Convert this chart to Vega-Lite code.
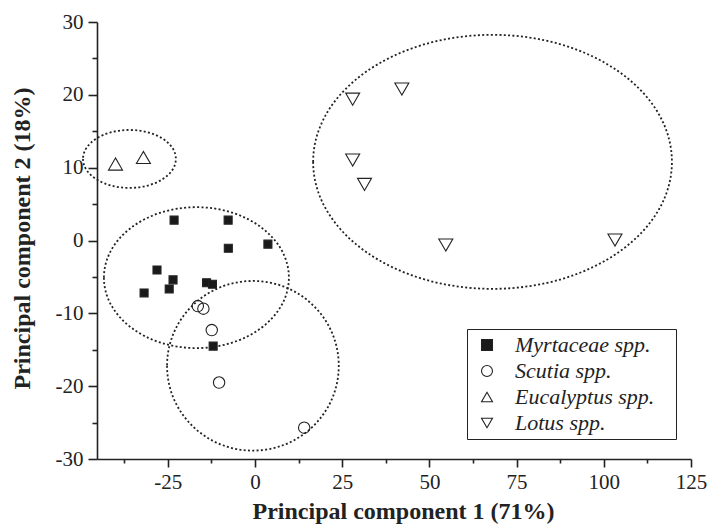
{
  "$schema": "https://vega.github.io/schema/vega-lite/v6.json",
  "width": 594,
  "height": 437,
  "autosize": {"type": "none"},
  "padding": {"left": 97, "top": 22, "right": 19, "bottom": 71},
  "background": "white",
  "config": {
    "view": {"stroke": null},
    "font": "Liberation Serif, Times New Roman, serif"
  },
  "datasets": {
    "points": [
      {"species": "Myrtaceae spp.", "pc1": -23.2, "pc2": 2.8},
      {"species": "Myrtaceae spp.", "pc1": -7.7, "pc2": 2.8},
      {"species": "Myrtaceae spp.", "pc1": -7.65, "pc2": -1.07},
      {"species": "Myrtaceae spp.", "pc1": 3.7, "pc2": -0.5},
      {"species": "Myrtaceae spp.", "pc1": -28.1, "pc2": -4.05},
      {"species": "Myrtaceae spp.", "pc1": -23.5, "pc2": -5.4},
      {"species": "Myrtaceae spp.", "pc1": -24.6, "pc2": -6.65},
      {"species": "Myrtaceae spp.", "pc1": -31.8, "pc2": -7.2},
      {"species": "Myrtaceae spp.", "pc1": -13.9, "pc2": -5.8},
      {"species": "Myrtaceae spp.", "pc1": -12.2, "pc2": -6.0},
      {"species": "Myrtaceae spp.", "pc1": -12.0, "pc2": -14.5},
      {"species": "Scutia spp.", "pc1": -16.4, "pc2": -9.0},
      {"species": "Scutia spp.", "pc1": -14.8, "pc2": -9.36},
      {"species": "Scutia spp.", "pc1": -12.4, "pc2": -12.3},
      {"species": "Scutia spp.", "pc1": -10.3, "pc2": -19.5},
      {"species": "Scutia spp.", "pc1": 14.1, "pc2": -25.7},
      {"species": "Eucalyptus spp.", "pc1": -40.0, "pc2": 10.5},
      {"species": "Eucalyptus spp.", "pc1": -32.0, "pc2": 11.4},
      {"species": "Lotus spp.", "pc1": 28.0, "pc2": 19.4},
      {"species": "Lotus spp.", "pc1": 42.1, "pc2": 20.8},
      {"species": "Lotus spp.", "pc1": 28.0, "pc2": 11.05},
      {"species": "Lotus spp.", "pc1": 31.4, "pc2": 7.7},
      {"species": "Lotus spp.", "pc1": 54.7, "pc2": -0.62},
      {"species": "Lotus spp.", "pc1": 103.2, "pc2": 0.07}
    ],
    "ellipses": [
      {"group": "Eucalyptus", "pc1": -36.0, "pc2": 11.2, "rx": 13.3, "ry": 4.0},
      {"group": "Myrtaceae", "pc1": -16.8, "pc2": -5.1, "rx": 26.5, "ry": 9.7},
      {"group": "Scutia", "pc1": -0.6, "pc2": -17.2, "rx": 24.6, "ry": 11.7},
      {"group": "Lotus", "pc1": 68.1, "pc2": 10.8, "rx": 51.4, "ry": 17.4}
    ]
  },
  "encoding": {
    "x": {"field": "pc1", "type": "quantitative", "scale": {"domain": [-45.3, 125], "nice": false, "zero": false},
      "axis": {
        "values": [-37.5, -25, -12.5, 0, 12.5, 25, 37.5, 50, 62.5, 75, 87.5, 100, 112.5, 125],
        "labelExpr": "datum.value % 25 == 0 ? '' + datum.value : ''",
        "tickSize": {"condition": {"test": "datum.value % 25 == 0", "value": 8}, "value": 4},
        "grid": false,
        "domainColor": "#222", "domainWidth": 1.6,
        "tickColor": "#222", "tickWidth": 1.6,
        "labelFont": "Liberation Serif, Times New Roman, serif", "labelFontSize": 21, "labelColor": "#222", "labelPadding": 4,
        "labelFlush": false, "labelOverlap": false,
        "title": "Principal component 1 (71%)",
        "titleFont": "Liberation Serif, Times New Roman, serif", "titleFontSize": 24, "titleFontWeight": "bold", "titleColor": "#222",
        "titleX": 306, "titleY": 59, "titleBaseline": "alphabetic", "titleAnchor": null, "titleAlign": "center"
      }
    },
    "y": {"field": "pc2", "type": "quantitative", "scale": {"domain": [-30, 30], "nice": false, "zero": false},
      "axis": {
        "values": [-30, -25, -20, -15, -10, -5, 0, 5, 10, 15, 20, 25, 30],
        "labelExpr": "datum.value % 10 == 0 ? '' + datum.value : ''",
        "tickSize": {"condition": {"test": "datum.value % 10 == 0", "value": 9}, "value": 5},
        "grid": false,
        "domainColor": "#222", "domainWidth": 1.6,
        "tickColor": "#222", "tickWidth": 1.6,
        "labelFont": "Liberation Serif, Times New Roman, serif", "labelFontSize": 21, "labelColor": "#222", "labelPadding": 5,
        "labelFlush": false, "labelOverlap": false,
        "title": "Principal component 2 (18%)",
        "titleFont": "Liberation Serif, Times New Roman, serif", "titleFontSize": 24, "titleFontWeight": "bold", "titleColor": "#222",
        "titleX": -68, "titleY": 216, "titleBaseline": "alphabetic", "titleAngle": -90, "titleAlign": "center", "titleAnchor": null
      }
    }
  },
  "layer": [
    {
      "data": {"name": "ellipses"},
      "transform": [{"filter": "datum.group === 'Eucalyptus'"}],
      "mark": {"type": "point", "filled": false, "stroke": "#222", "strokeWidth": 1.8, "strokeDash": [2, 2.3], "opacity": 1, "clip": false,
        "shape": "M-1,0A1,0.624 0 1,0 1,0A1,0.624 0 1,0 -1,0Z"},
      "encoding": {
        "size": {"field": "rx", "type": "quantitative", "scale": {"type": "pow", "exponent": 2, "domain": [0, 100], "range": [0, 487204]}, "legend": null}
      }
    },
    {
      "data": {"name": "ellipses"},
      "transform": [{"filter": "datum.group === 'Myrtaceae'"}],
      "mark": {"type": "point", "filled": false, "stroke": "#222", "strokeWidth": 1.8, "strokeDash": [2, 2.3], "opacity": 1, "clip": false,
        "shape": "M-1,0A1,0.762 0 1,0 1,0A1,0.762 0 1,0 -1,0Z"},
      "encoding": {
        "size": {"field": "rx", "type": "quantitative", "legend": null}
      }
    },
    {
      "data": {"name": "ellipses"},
      "transform": [{"filter": "datum.group === 'Scutia'"}],
      "mark": {"type": "point", "filled": false, "stroke": "#222", "strokeWidth": 1.8, "strokeDash": [2, 2.3], "opacity": 1, "clip": false,
        "shape": "M-1,0A1,0.988 0 1,0 1,0A1,0.988 0 1,0 -1,0Z"},
      "encoding": {
        "size": {"field": "rx", "type": "quantitative", "legend": null}
      }
    },
    {
      "data": {"name": "ellipses"},
      "transform": [{"filter": "datum.group === 'Lotus'"}],
      "mark": {"type": "point", "filled": false, "stroke": "#222", "strokeWidth": 1.8, "strokeDash": [2, 2.3], "opacity": 1, "clip": false,
        "shape": "M-1,0A1,0.708 0 1,0 1,0A1,0.708 0 1,0 -1,0Z"},
      "encoding": {
        "size": {"field": "rx", "type": "quantitative", "legend": null}
      }
    },
    {
      "data": {"name": "points"},
      "mark": {"type": "point", "filled": false, "strokeWidth": 1.1, "opacity": 1},
      "encoding": {
        "shape": {"field": "species", "type": "nominal",
          "scale": {"domain": ["Myrtaceae spp.", "Scutia spp.", "Eucalyptus spp.", "Lotus spp."], "range": ["square", "circle", "triangle-up", "triangle-down"]},
          "legend": {
            "orient": "none", "legendX": 370, "legendY": 307, "title": null,
            "strokeColor": "#222", "padding": 5, "fillColor": "white",
            "labelFont": "Liberation Serif, Times New Roman, serif", "labelFontSize": 22, "labelFontStyle": "italic", "labelColor": "#222",
            "labelExpr": "datum.label + '\u2800'",
            "labelOffset": 17, "symbolOffset": 4, "rowPadding": 4,
            "symbolStrokeWidth": 1.1, "symbolSize": 120
          }},
        "fill": {"field": "species", "type": "nominal",
          "scale": {"domain": ["Myrtaceae spp.", "Scutia spp.", "Eucalyptus spp.", "Lotus spp."], "range": ["#1a1a1a", "transparent", "transparent", "transparent"]}},
        "stroke": {"field": "species", "type": "nominal",
          "scale": {"domain": ["Myrtaceae spp.", "Scutia spp.", "Eucalyptus spp.", "Lotus spp."], "range": ["#222222", "#222222", "#222222", "#222222"]}},
        "size": {"condition": [
          {"test": "datum.species === 'Myrtaceae spp.'", "value": 64},
          {"test": "datum.species === 'Scutia spp.'", "value": 130}
        ], "value": 196}
      }
    }
  ]
}
